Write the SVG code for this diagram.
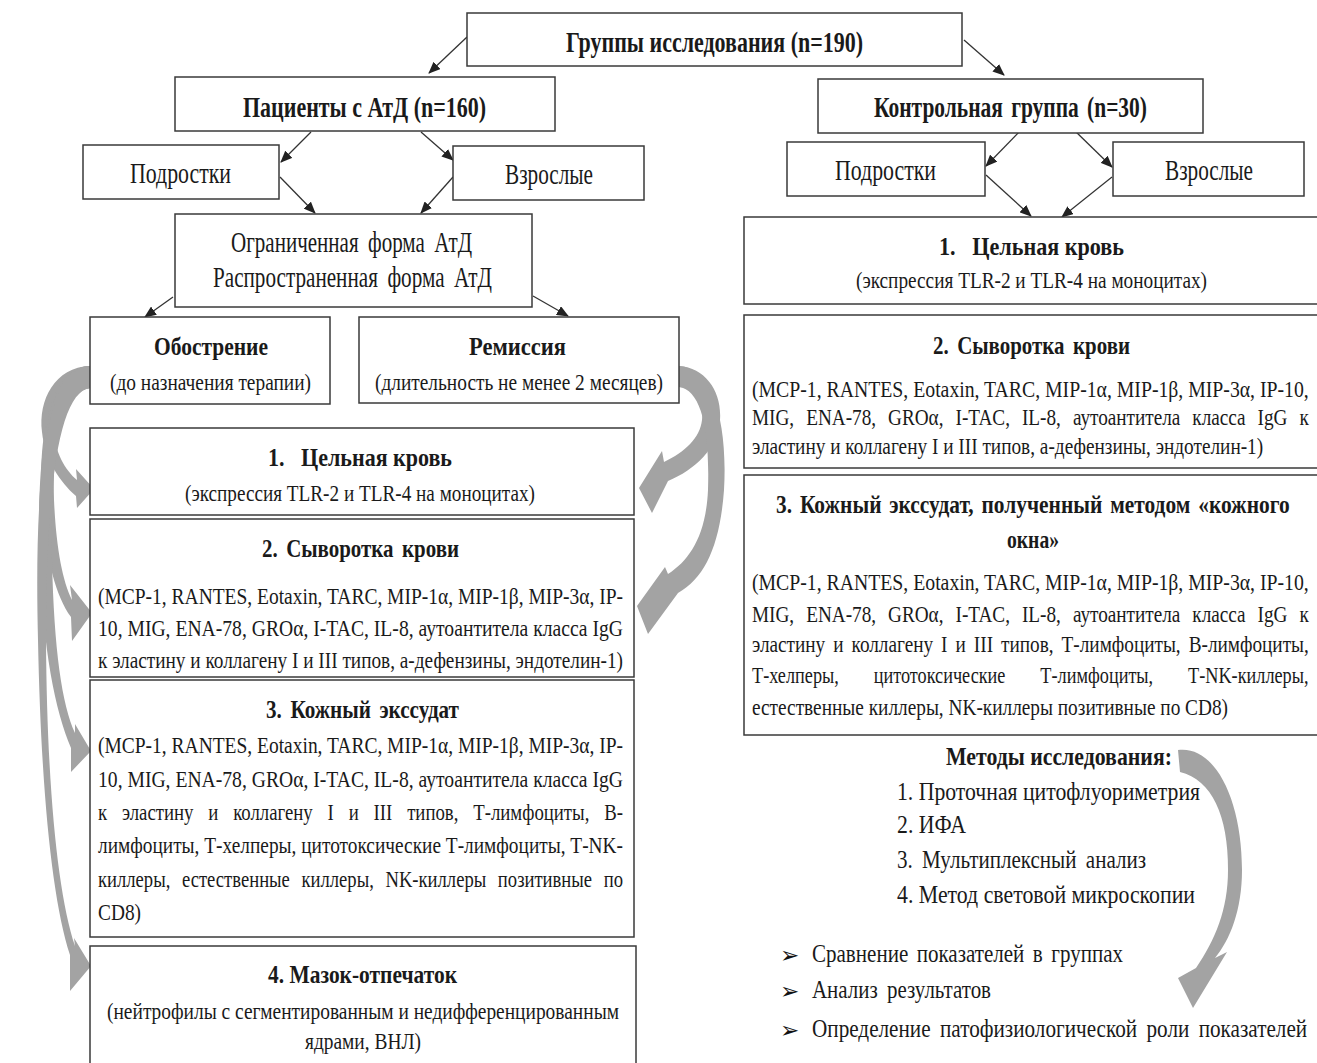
<svg xmlns="http://www.w3.org/2000/svg" width="1317" height="1063" viewBox="0 0 1317 1063">
<style>
text{font-family:"Liberation Serif","Times New Roman",serif;fill:#1a1a1a}
.b{font-weight:bold}
.f30{font-size:30px}
.f26{font-size:26px}
.f24{font-size:24px}
.box{fill:#fff;stroke:#3a3a3a;stroke-width:1.5}
.con{stroke:#333;stroke-width:1.3;fill:none;marker-end:url(#ah)}
.gray{fill:#a3a3a3}
.bul{font-family:"DejaVu Sans",sans-serif;font-size:23px;fill:#111}
</style>
<defs>
<marker id="ah" markerUnits="userSpaceOnUse" markerWidth="12" markerHeight="10" refX="11" refY="5" orient="auto">
<path d="M0,0 L12,5 L0,10 z" fill="#222"/>
</marker>
</defs>
<rect x="0" y="0" width="1317" height="1063" fill="#fff"/>

<g id="connectors">
<line class="con" x1="467" y1="37" x2="429" y2="73"/>
<line class="con" x1="964" y1="40" x2="1004" y2="75"/>
<line class="con" x1="311" y1="132" x2="281" y2="162"/>
<line class="con" x1="421" y1="132" x2="453" y2="160"/>
<line class="con" x1="280" y1="177" x2="315" y2="213"/>
<line class="con" x1="453" y1="177" x2="421" y2="213"/>
<line class="con" x1="173" y1="297" x2="145" y2="317"/>
<line class="con" x1="533" y1="296" x2="568" y2="316"/>
<line class="con" x1="1022" y1="129" x2="986" y2="166"/>
<line class="con" x1="1073" y1="129" x2="1112" y2="167"/>
<line class="con" x1="986" y1="175" x2="1031" y2="216"/>
<line class="con" x1="1112" y1="177" x2="1062" y2="217"/>
<!-- gray curved arrows from Обострение -->
<path class="gray" d="M90,366 C55,367 38,400 42,432 C45,460 60,482 76,496 L77,508 L94,489 L76,469 L77,480 C65,470 55,452 54,432 C53,405 68,390 90,388 Z"/>
<path class="gray" d="M90,366 C52,367 38,430 42,500 C45,555 55,595 71,617 L72,641 L92,613 L70,585 L72,600 C62,580 56,545 54,500 C52,430 64,392 90,388 Z"/>
<path class="gray" d="M90,366 C48,367 36,450 40,560 C43,650 55,710 71,748 L71,772 L91,751 L75,724 L75,733 C62,705 54,650 52,560 C50,450 62,392 90,388 Z"/>
<path class="gray" d="M90,366 C45,367 34,480 38,640 C41,790 52,900 70,955 L70,991 L91,966 L74,938 L75,946 C58,895 47,790 46,640 C46,480 60,392 90,388 Z"/>
<!-- gray curved arrows from Ремиссия -->
<path class="gray" d="M679,366 C706,368 722,392 720,420 C718,448 695,470 668,481 L652,513 L639,488 L662,451 L664,462 C685,452 700,438 702,420 C704,400 695,388 679,387 Z"/>
<path class="gray" d="M679,366 C712,368 728,420 724,490 C720,545 705,578 678,593 L648,634 L637,606 L665,567 L668,574 C690,560 706,535 708,490 C710,425 700,390 679,387 Z"/>
<!-- gray curved arrow methods -> results -->
<path class="gray" d="M1178,750 C1215,745 1242,800 1242,870 C1242,910 1230,940 1215,958 L1227,952 L1193,1008 L1178,978 L1196,968 C1215,940 1228,910 1228,870 C1228,815 1212,780 1180,772 Z"/>
</g>

<g id="n-groups">
<rect class="box" x="467" y="13" width="495" height="53"/>
<text class="b f30" x="566" y="52" textLength="297" lengthAdjust="spacingAndGlyphs">Группы исследования (n=190)</text>
</g>

<g id="n-patients">
<rect class="box" x="175" y="77" width="380" height="54"/>
<text class="b f30" x="243" y="117" textLength="243" lengthAdjust="spacingAndGlyphs">Пациенты с АтД (n=160)</text>
</g>

<g id="n-teen-l">
<rect class="box" x="83" y="145" width="196" height="54"/>
<text class="f30" x="130" y="183" textLength="101" lengthAdjust="spacingAndGlyphs">Подростки</text>
</g>

<g id="n-adult-l">
<rect class="box" x="453" y="146" width="191" height="54"/>
<text class="f30" x="505" y="184" textLength="88" lengthAdjust="spacingAndGlyphs">Взрослые</text>
</g>

<g id="n-form">
<rect class="box" x="175" y="214" width="357" height="93"/>
<text class="f30" x="231" y="252" word-spacing="6" textLength="241" lengthAdjust="spacingAndGlyphs">Ограниченная форма АтД</text>
<text class="f30" x="213" y="287" word-spacing="6" textLength="279" lengthAdjust="spacingAndGlyphs">Распространенная форма АтД</text>
</g>

<g id="n-control">
<rect class="box" x="818" y="79" width="385" height="54"/>
<text class="b f30" x="874" y="117" word-spacing="4" textLength="273" lengthAdjust="spacingAndGlyphs">Контрольная группа (n=30)</text>
</g>

<g id="n-teen-r">
<rect class="box" x="787" y="142" width="198" height="54"/>
<text class="f30" x="835" y="180" textLength="101" lengthAdjust="spacingAndGlyphs">Подростки</text>
</g>

<g id="n-adult-r">
<rect class="box" x="1113" y="142" width="191" height="54"/>
<text class="f30" x="1165" y="180" textLength="88" lengthAdjust="spacingAndGlyphs">Взрослые</text>
</g>

<g id="n-blood-r">
<rect class="box" x="744" y="217" width="590" height="87"/>
<text class="b f26" x="939" y="255" textLength="185" lengthAdjust="spacingAndGlyphs">1.&#160;&#160; Цельная кровь</text>
<text class="f24" x="856" y="288" textLength="351" lengthAdjust="spacingAndGlyphs">(экспрессия TLR-2 и TLR-4 на моноцитах)</text>
</g>

<g id="n-serum-r">
<rect class="box" x="744" y="315" width="590" height="153"/>
<text class="b f26" x="933" y="354" word-spacing="4" textLength="197" lengthAdjust="spacingAndGlyphs">2. Сыворотка крови</text>
<text class="f24" transform="translate(752,397) scale(0.8,1)" x="0" y="0" textLength="696" lengthAdjust="spacingAndGlyphs">(MCP-1, RANTES, Eotaxin, TARC, MIP-1α, MIP-1β, MIP-3α, IP-10,</text>
<text class="f24" transform="translate(752,425) scale(0.8,1)" x="0" y="0" word-spacing="9" textLength="696" lengthAdjust="spacingAndGlyphs">MIG, ENA-78, GROα, I-TAC, IL-8, аутоантитела класса IgG к</text>
<text class="f24" transform="translate(752,454) scale(0.8,1)" x="0" y="0" textLength="639" lengthAdjust="spacingAndGlyphs">эластину и коллагену I и III типов, а-дефензины, эндотелин-1)</text>
</g>

<g id="n-skin-r">
<rect class="box" x="744" y="475" width="590" height="260"/>
<text class="b f26" transform="translate(776,513) scale(0.8,1)" x="0" y="0" word-spacing="3" textLength="642" lengthAdjust="spacingAndGlyphs">3. Кожный экссудат, полученный методом «кожного</text>
<text class="b f26" x="1007" y="548" textLength="52" lengthAdjust="spacingAndGlyphs">окна»</text>
<text class="f24" transform="translate(752,590) scale(0.8,1)" x="0" y="0" textLength="696" lengthAdjust="spacingAndGlyphs">(MCP-1, RANTES, Eotaxin, TARC, MIP-1α, MIP-1β, MIP-3α, IP-10,</text>
<text class="f24" transform="translate(752,622) scale(0.8,1)" x="0" y="0" word-spacing="9" textLength="696" lengthAdjust="spacingAndGlyphs">MIG, ENA-78, GROα, I-TAC, IL-8, аутоантитела класса IgG к</text>
<text class="f24" transform="translate(752,652) scale(0.8,1)" x="0" y="0" word-spacing="4" textLength="696" lengthAdjust="spacingAndGlyphs">эластину и коллагену I и III типов, Т-лимфоциты, В-лимфоциты,</text>
<text class="f24" transform="translate(752,683) scale(0.7,1)" x="0" y="0" word-spacing="40" textLength="795" lengthAdjust="spacingAndGlyphs">Т-хелперы, цитотоксические Т-лимфоциты, Т-NK-киллеры,</text>
<text class="f24" transform="translate(752,715) scale(0.8,1)" x="0" y="0" textLength="595" lengthAdjust="spacingAndGlyphs">естественные киллеры, NK-киллеры позитивные по CD8)</text>
</g>

<g id="n-exac">
<rect class="box" x="90" y="317" width="240" height="87"/>
<text class="b f26" x="154" y="355" textLength="114" lengthAdjust="spacingAndGlyphs">Обострение</text>
<text class="f24" x="110" y="390" textLength="201" lengthAdjust="spacingAndGlyphs">(до назначения терапии)</text>
</g>

<g id="n-remis">
<rect class="box" x="359" y="317" width="320" height="86"/>
<text class="b f26" x="469" y="355" textLength="97" lengthAdjust="spacingAndGlyphs">Ремиссия</text>
<text class="f24" x="375" y="390" textLength="288" lengthAdjust="spacingAndGlyphs">(длительность не менее 2 месяцев)</text>
</g>

<g id="n-blood-l">
<rect class="box" x="90" y="428" width="544" height="87"/>
<text class="b f26" x="268" y="466" textLength="184" lengthAdjust="spacingAndGlyphs">1.&#160;&#160; Цельная кровь</text>
<text class="f24" x="185" y="501" textLength="350" lengthAdjust="spacingAndGlyphs">(экспрессия TLR-2 и TLR-4 на моноцитах)</text>
</g>

<g id="n-serum-l">
<rect class="box" x="90" y="519" width="544" height="158"/>
<text class="b f26" x="262" y="557" word-spacing="4" textLength="197" lengthAdjust="spacingAndGlyphs">2. Сыворотка крови</text>
<text class="f24" x="98" y="604" textLength="525" lengthAdjust="spacingAndGlyphs">(MCP-1, RANTES, Eotaxin, TARC, MIP-1α, MIP-1β, MIP-3α, IP-</text>
<text class="f24" x="98" y="636" textLength="525" lengthAdjust="spacingAndGlyphs">10, MIG, ENA-78, GROα, I-TAC, IL-8, аутоантитела класса IgG</text>
<text class="f24" x="98" y="668" textLength="525" lengthAdjust="spacingAndGlyphs">к эластину и коллагену I и III типов, а-дефензины, эндотелин-1)</text>
</g>

<g id="n-skin-l">
<rect class="box" x="90" y="680" width="544" height="257"/>
<text class="b f26" x="266" y="718" word-spacing="4" textLength="193" lengthAdjust="spacingAndGlyphs">3. Кожный экссудат</text>
<text class="f24" x="98" y="753" textLength="525" lengthAdjust="spacingAndGlyphs">(MCP-1, RANTES, Eotaxin, TARC, MIP-1α, MIP-1β, MIP-3α, IP-</text>
<text class="f24" x="98" y="787" textLength="525" lengthAdjust="spacingAndGlyphs">10, MIG, ENA-78, GROα, I-TAC, IL-8, аутоантитела класса IgG</text>
<text class="f24" x="98" y="820" word-spacing="13" textLength="525" lengthAdjust="spacingAndGlyphs">к эластину и коллагену I и III типов, Т-лимфоциты, В-</text>
<text class="f24" x="98" y="853" textLength="525" lengthAdjust="spacingAndGlyphs">лимфоциты, Т-хелперы, цитотоксические Т-лимфоциты, Т-NK-</text>
<text class="f24" x="98" y="887" word-spacing="9" textLength="525" lengthAdjust="spacingAndGlyphs">киллеры, естественные киллеры, NK-киллеры позитивные по</text>
<text class="f24" x="98" y="920" textLength="43" lengthAdjust="spacingAndGlyphs">CD8)</text>
</g>

<g id="n-smear">
<rect class="box" x="90" y="946" width="546" height="125"/>
<text class="b f26" x="268" y="983" textLength="189" lengthAdjust="spacingAndGlyphs">4. Мазок-отпечаток</text>
<text class="f24" x="107" y="1019" textLength="512" lengthAdjust="spacingAndGlyphs">(нейтрофилы с сегментированным и недифференцированным</text>
<text class="f24" x="305" y="1049" textLength="116" lengthAdjust="spacingAndGlyphs">ядрами, ВНЛ)</text>
</g>

<g id="n-methods">
<text class="b f26" x="946" y="765" textLength="226" lengthAdjust="spacingAndGlyphs">Методы исследования:</text>
<text class="f26" x="897" y="800" textLength="303" lengthAdjust="spacingAndGlyphs">1. Проточная цитофлуориметрия</text>
<text class="f26" x="897" y="833" textLength="69" lengthAdjust="spacingAndGlyphs">2. ИФА</text>
<text class="f26" x="897" y="868" word-spacing="5" textLength="249" lengthAdjust="spacingAndGlyphs">3. Мультиплексный анализ</text>
<text class="f26" x="897" y="903" textLength="298" lengthAdjust="spacingAndGlyphs">4. Метод световой микроскопии</text>
</g>

<g id="n-results">
<text class="bul" x="780" y="963">➢</text>
<text class="f26" x="812" y="962" word-spacing="4" textLength="311" lengthAdjust="spacingAndGlyphs">Сравнение показателей в группах</text>
<text class="bul" x="780" y="999">➢</text>
<text class="f26" x="812" y="998" word-spacing="5" textLength="179" lengthAdjust="spacingAndGlyphs">Анализ результатов</text>
<text class="bul" x="780" y="1038">➢</text>
<text class="f26" transform="translate(812,1037) scale(0.8,1)" x="0" y="0" word-spacing="5" textLength="619" lengthAdjust="spacingAndGlyphs">Определение патофизиологической роли показателей</text>
</g>
</svg>
